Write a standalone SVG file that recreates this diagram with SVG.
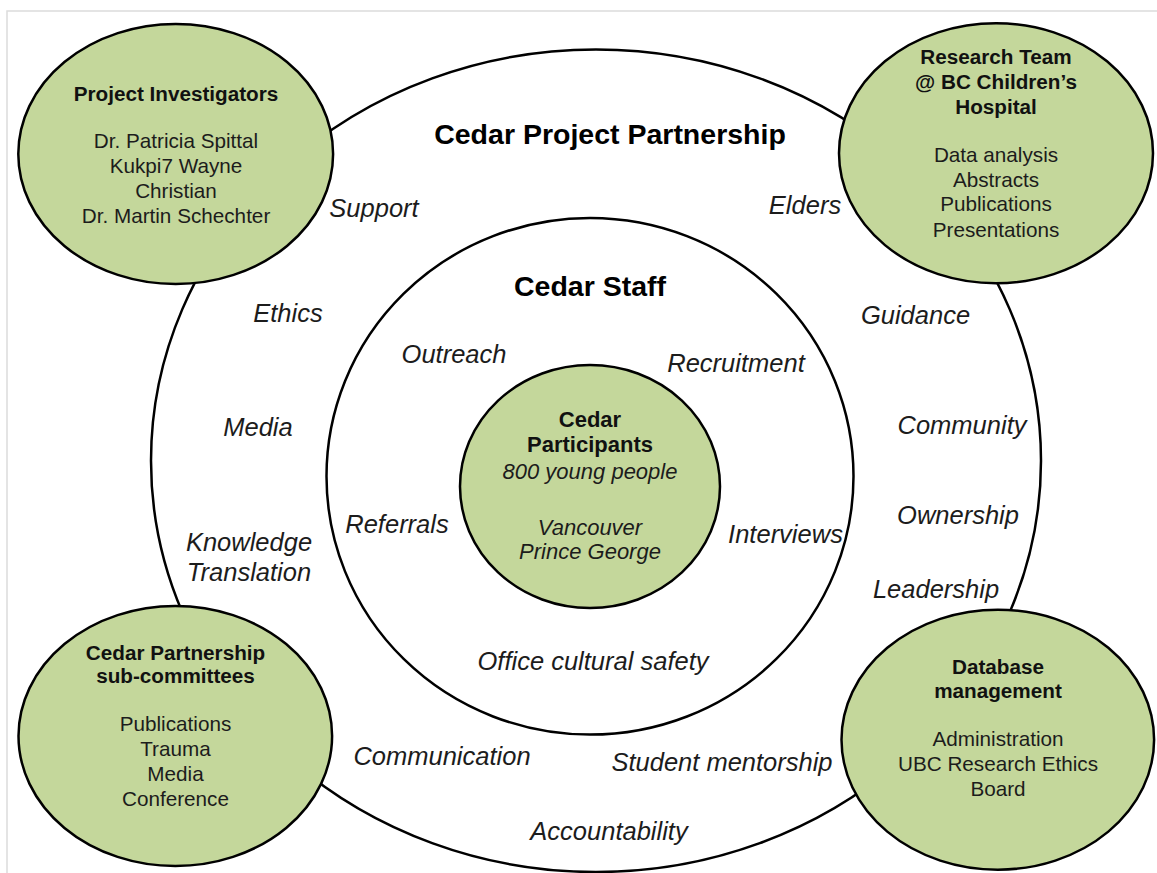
<svg xmlns="http://www.w3.org/2000/svg" width="1157" height="873" viewBox="0 0 1157 873">
  <style>
    text { font-family: "Liberation Sans", Arial, Helvetica, sans-serif; text-anchor: middle; fill: #1c1c1c; }
    .node { fill: #c4d79b; stroke: #000; stroke-width: 2.5; }
    .ring { fill: #fff; stroke: #000; stroke-width: 2.5; }
    .title { font-size: 28.5px; font-weight: bold; fill: #000; }
    .head { font-size: 20.7px; font-weight: bold; fill: #111; }
    .body { font-size: 20.7px; }
    .inhead { font-size: 22px; font-weight: bold; fill: #111; }
    .inbody { font-size: 22px; font-style: italic; }
    .lbl { font-size: 25.5px; font-style: italic; }
  </style>
  <rect x="0" y="0" width="1157" height="873" fill="#fff"/>
  <rect x="7" y="11" width="1170" height="880" fill="none" stroke="#dcdcdc" stroke-width="1.5"/>

  <g id="partnership">
    <ellipse class="ring" cx="596" cy="460.75" rx="445" ry="411.25"/>
    <text class="title" x="610" y="144">Cedar Project Partnership</text>
  </g>

  <g id="staff">
    <ellipse class="ring" cx="590" cy="476.3" rx="263.5" ry="258.3"/>
    <text class="title" x="590" y="296">Cedar Staff</text>
  </g>

  <g id="participants">
    <ellipse class="node" cx="590" cy="486.5" rx="130" ry="121.5"/>
    <text class="inhead" x="590" y="427">Cedar</text>
    <text class="inhead" x="590" y="452">Participants</text>
    <text class="inbody" x="590" y="479">800 young people</text>
    <text class="inbody" x="590" y="535">Vancouver</text>
    <text class="inbody" x="590" y="559">Prince George</text>
  </g>

  <g id="labels">
    <text class="lbl" x="374" y="217">Support</text>
    <text class="lbl" x="288" y="321.5">Ethics</text>
    <text class="lbl" x="454" y="362.5">Outreach</text>
    <text class="lbl" x="258" y="435.5">Media</text>
    <text class="lbl" x="249" y="550.5">Knowledge</text>
    <text class="lbl" x="249" y="580.5">Translation</text>
    <text class="lbl" x="397" y="532.5">Referrals</text>
    <text class="lbl" x="593" y="669.5">Office cultural safety</text>
    <text class="lbl" x="442" y="764.5">Communication</text>
    <text class="lbl" x="722" y="771">Student mentorship</text>
    <text class="lbl" x="609" y="840">Accountability</text>
    <text class="lbl" x="805" y="213.5">Elders</text>
    <text class="lbl" x="915.5" y="323.5">Guidance</text>
    <text class="lbl" x="736" y="371.5">Recruitment</text>
    <text class="lbl" x="962" y="434">Community</text>
    <text class="lbl" x="958" y="524">Ownership</text>
    <text class="lbl" x="936" y="598">Leadership</text>
    <text class="lbl" x="785.5" y="543">Interviews</text>
  </g>

  <g id="project-investigators">
    <ellipse class="node" cx="175.7" cy="154" rx="157.4" ry="130"/>
    <text class="head" x="176" y="100.5">Project Investigators</text>
    <text class="body" x="176" y="147.5">Dr. Patricia Spittal</text>
    <text class="body" x="176" y="172.5">Kukpi7 Wayne</text>
    <text class="body" x="176" y="197.5">Christian</text>
    <text class="body" x="176" y="222.5">Dr. Martin Schechter</text>
  </g>

  <g id="research-team">
    <ellipse class="node" cx="996" cy="153.2" rx="157" ry="130"/>
    <text class="head" x="996" y="64">Research Team</text>
    <text class="head" x="996" y="89">@ BC Children’s</text>
    <text class="head" x="996" y="113.5">Hospital</text>
    <text class="body" x="996" y="161.5">Data analysis</text>
    <text class="body" x="996" y="186.5">Abstracts</text>
    <text class="body" x="996" y="211">Publications</text>
    <text class="body" x="996" y="236.5">Presentations</text>
  </g>

  <g id="sub-committees">
    <ellipse class="node" cx="175.3" cy="736" rx="156.8" ry="130"/>
    <text class="head" x="175.5" y="659.5">Cedar Partnership</text>
    <text class="head" x="175.5" y="683">sub-committees</text>
    <text class="body" x="175.5" y="731">Publications</text>
    <text class="body" x="175.5" y="755.5">Trauma</text>
    <text class="body" x="175.5" y="781">Media</text>
    <text class="body" x="175.5" y="805.5">Conference</text>
  </g>

  <g id="database-management">
    <ellipse class="node" cx="997.8" cy="739.7" rx="156.3" ry="130"/>
    <text class="head" x="998" y="673.5">Database</text>
    <text class="head" x="998" y="698">management</text>
    <text class="body" x="998" y="746">Administration</text>
    <text class="body" x="998" y="771">UBC Research Ethics</text>
    <text class="body" x="998" y="796">Board</text>
  </g>
</svg>
